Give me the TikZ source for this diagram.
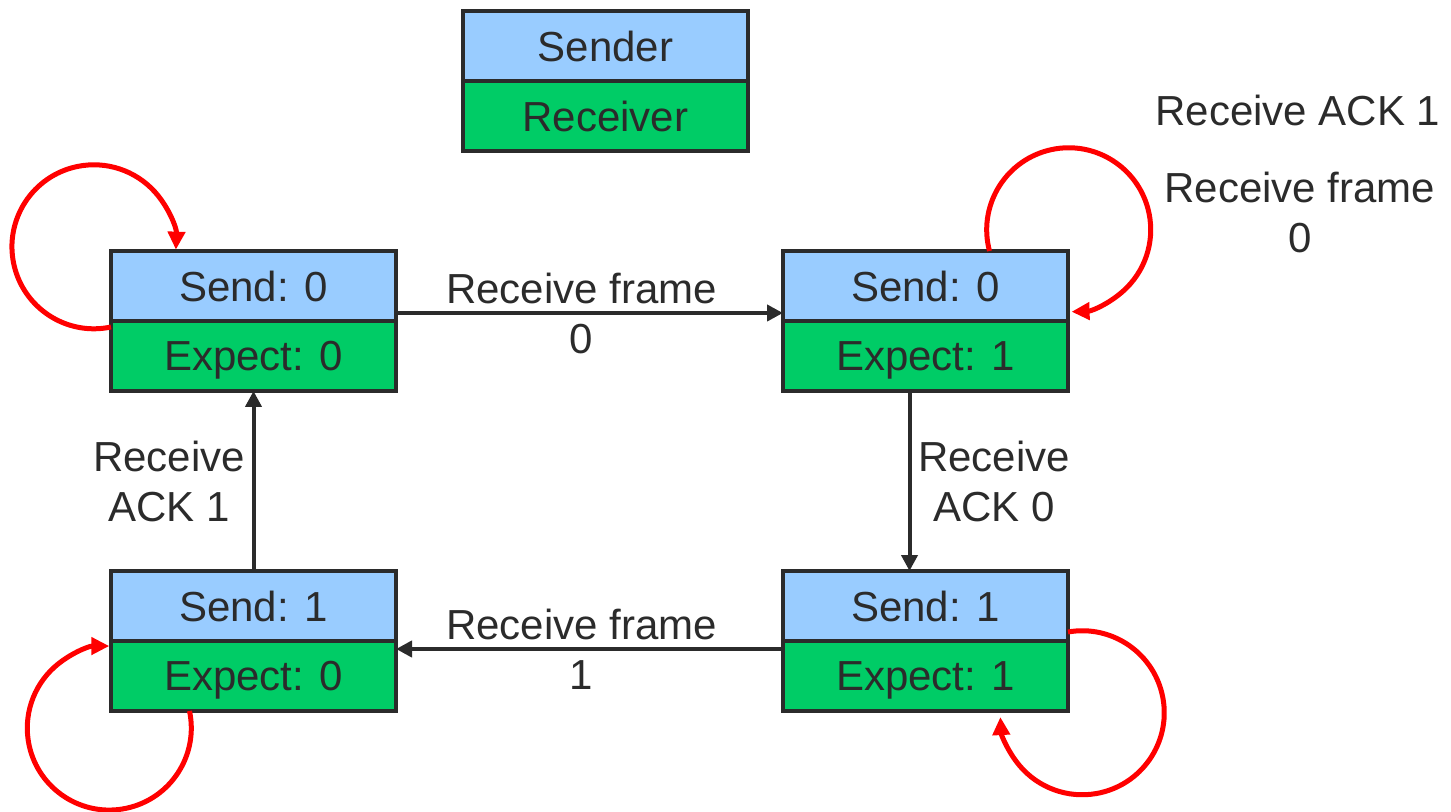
\documentclass[tikz,border=0pt]{standalone}
\usepackage{fontspec}
\setmainfont{Liberation Sans}
\usetikzlibrary{positioning,arrows.meta}
\definecolor{sendblue}{HTML}{99CCFF}
\definecolor{expgreen}{HTML}{00CC66}
\definecolor{edgegray}{HTML}{2B2B2B}
\begin{document}
\begin{tikzpicture}[x=0.5pt, y=-0.5pt,
    row/.style={rectangle, draw=edgegray, line width=2pt, minimum width=142.5pt, minimum height=35pt,
      inner sep=0pt, outer sep=0pt, text=edgegray, text depth=0pt, font=\fontsize{21}{25}\selectfont},
    sendrow/.style={row, fill=sendblue},
    exprow/.style={row, fill=expgreen},
    trans/.style={draw=edgegray, line width=2pt, -{Triangle[length=8pt,width=8pt]}},
    selfloop/.style={draw=red, line width=2.5pt, -{Triangle[length=9pt,width=8.5pt]}},
    lbl/.style={text=edgegray, align=center, font=\fontsize{21}{25}\selectfont}]
  \useasboundingbox (0,0) rectangle (1451,812);

  % Legend
  \node[sendrow] (sender) at (605.5,46) {Sender};
  \node[exprow, below=0pt of sender] (receiver) {Receiver};

  % States (sender row on top, receiver row below)
  \node[sendrow] (s00) at (253.5,286) {Send: 0};
  \node[exprow, below=0pt of s00] (e00) {Expect: 0};
  \node[sendrow] (s01) at (925.5,286) {Send: 0};
  \node[exprow, below=0pt of s01] (e01) {Expect: 1};
  \node[sendrow] (s11) at (925.5,606) {Send: 1};
  \node[exprow, below=0pt of s11] (e11) {Expect: 1};
  \node[sendrow] (s10) at (253.5,606) {Send: 1};
  \node[exprow, below=0pt of s10] (e10) {Expect: 0};

  % Transitions
  \draw[trans] ([yshift=-13.5pt]s00.east) -- node[lbl, xshift=-4pt] {Receive frame\\0} ([yshift=-13.5pt]s01.west);
  \draw[trans] ([xshift=-8pt]e01.south) -- node[lbl, right] {Receive\\ACK 0} ([xshift=-8pt]s11.north);
  \draw[trans] ([yshift=13.5pt]e11.west) -- node[lbl, xshift=-4pt] {Receive frame\\1} ([yshift=13.5pt]e10.east);
  \draw[trans] (s10.north) -- node[lbl, left] {Receive\\ACK 1} (e00.south);

  % Self loops
  \draw[selfloop] ([yshift=-3pt]e00.north west) arc[start angle=-78, end angle=-362, radius=41pt];
  \draw[selfloop] ([xshift=32pt]s01.north) arc[start angle=195, end angle=-88, radius=41pt];
  \draw[selfloop] ([xshift=-32pt]e10.south) arc[start angle=12, end angle=-270, radius=41pt];
  \draw[selfloop] ([yshift=-13pt]s11.east) arc[start angle=100, end angle=-177, radius=41pt];

  % Loop labels
  \node[lbl] (ackone) at (1298,110) {Receive ACK 1};
  \node[lbl] (framezero) at (1300,212) {Receive frame\\0};
\end{tikzpicture}
\end{document}
